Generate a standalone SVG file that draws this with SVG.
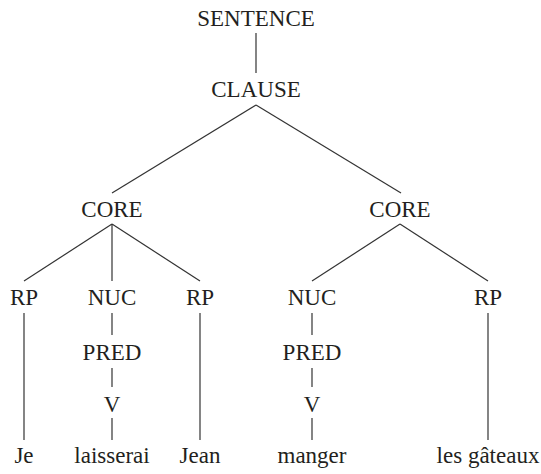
<svg xmlns="http://www.w3.org/2000/svg" width="541" height="474" viewBox="0 0 541 474">
<style>
text{font-family:"Liberation Serif","Times New Roman",serif;font-size:23px;fill:#231f20;text-anchor:middle}
line{stroke:#333;stroke-width:1.2}
</style>
<rect width="541" height="474" fill="#fff"/>
<g id="connectors">
<line x1="256" y1="33" x2="256" y2="73"/>
<line x1="256" y1="105" x2="112" y2="193"/>
<line x1="256" y1="105" x2="401" y2="193"/>
<line x1="112" y1="224" x2="24" y2="281"/>
<line x1="112" y1="224" x2="112" y2="281"/>
<line x1="112" y1="224" x2="200" y2="281"/>
<line x1="400" y1="224" x2="312" y2="281"/>
<line x1="400" y1="224" x2="488" y2="281"/>
<line x1="24" y1="313" x2="24" y2="440"/>
<line x1="200" y1="313" x2="200" y2="440"/>
<line x1="488" y1="313" x2="488" y2="440"/>
<line x1="112" y1="313" x2="112" y2="335"/>
<line x1="112" y1="368" x2="112" y2="387"/>
<line x1="112" y1="418" x2="112" y2="440"/>
<line x1="312" y1="313" x2="312" y2="335"/>
<line x1="312" y1="368" x2="312" y2="387"/>
<line x1="312" y1="418" x2="312" y2="440"/>
</g>
<g id="sentence"><text x="256" y="26">SENTENCE</text></g>
<g id="clause"><text x="256" y="97">CLAUSE</text></g>
<g id="core1"><text x="112" y="217">CORE</text></g>
<g id="core2"><text x="400" y="217">CORE</text></g>
<g id="rp1"><text x="24" y="305">RP</text></g>
<g id="nuc1"><text x="112" y="305">NUC</text></g>
<g id="rp2"><text x="200" y="305">RP</text></g>
<g id="nuc2"><text x="312" y="305">NUC</text></g>
<g id="rp3"><text x="488" y="305">RP</text></g>
<g id="pred1"><text x="112" y="360">PRED</text></g>
<g id="pred2"><text x="312" y="360">PRED</text></g>
<g id="v1"><text x="112" y="412">V</text></g>
<g id="v2"><text x="312" y="412">V</text></g>
<g id="w-je"><text x="24" y="463">Je</text></g>
<g id="w-laisserai"><text x="112" y="463">laisserai</text></g>
<g id="w-jean"><text x="200" y="463">Jean</text></g>
<g id="w-manger"><text x="312" y="463">manger</text></g>
<g id="w-gateaux"><text x="488" y="463">les gâteaux</text></g>
</svg>
